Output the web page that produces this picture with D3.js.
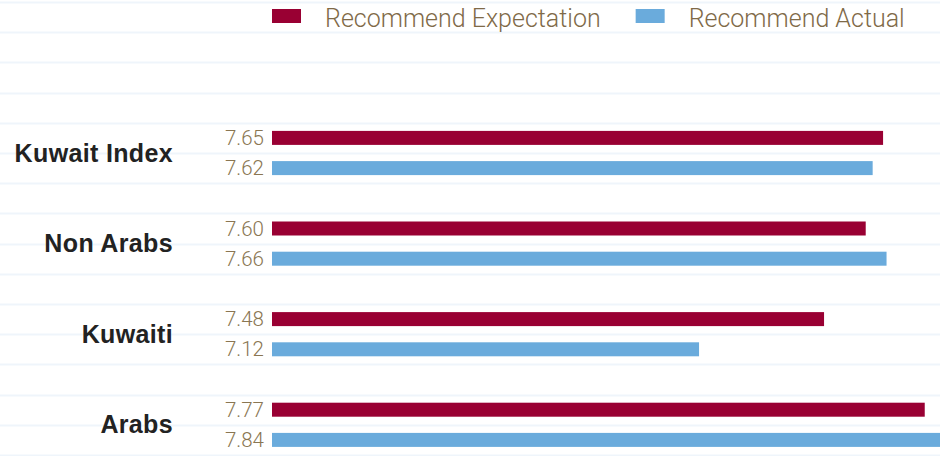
<!DOCTYPE html>
<html>
<head>
<meta charset="utf-8">
<script src="https://cdn.jsdelivr.net/npm/d3@7"></script>
<style>
  html, body { margin: 0; padding: 0; background: #fff; }
  svg { display: block; }
</style>
</head>
<body>
<svg id="chart" width="940" height="456"></svg>
<script>
// Recommendation scores per segment
const categories = ["Kuwait Index", "Non Arabs", "Kuwaiti", "Arabs"];
const expectation = [7.65, 7.60, 7.48, 7.77];
const actual = [7.62, 7.66, 7.12, 7.84];
const seriesNames = ["Recommend Expectation", "Recommend Actual"];
const seriesColors = ["#990033", "#6aabdc"];

const W = 940, H = 456;
const svg = d3.select("#chart");

// Row layout: legend + two spacer rows, then per category a spacer, expectation and actual row
const rowKeys = ["legend", "pad1", "pad2"];
categories.forEach((c, i) => {
  rowKeys.push("gap" + i, "exp" + i, "act" + i);
});
const y = d3.scaleBand().domain(rowKeys).range([2, 455]).paddingInner(0).paddingOuter(0);
const x = d3.scaleLinear().domain([5.89, 7.89]).range([272, 966.4]);
const barH = 14;

// horizontal rules between rows
const rules = rowKeys.map(k => y(k)).concat([y.range()[1]]);
svg.append("g").selectAll("line").data(rules).join("line")
  .attr("x1", 0).attr("x2", W)
  .attr("y1", d => Math.round(d) + 0.5).attr("y2", d => Math.round(d) + 0.5)
  .attr("stroke", "#eff5fb").attr("stroke-width", 2);

const rows = [];
categories.forEach((c, i) => {
  rows.push({ key: "exp" + i, value: expectation[i], s: 0 });
  rows.push({ key: "act" + i, value: actual[i], s: 1 });
});

const gBars = svg.append("g");
gBars.selectAll("rect").data(rows).join("rect")
  .attr("x", x.range()[0])
  .attr("y", d => y(d.key) + y.bandwidth() / 2 - barH / 2)
  .attr("width", d => x(d.value) - x.range()[0])
  .attr("height", barH)
  .attr("fill", d => seriesColors[d.s]);

// value labels left of the bars
svg.append("g").selectAll("text").data(rows).join("text")
  .attr("x", 264)
  .attr("y", d => y(d.key) + y.bandwidth() / 2 + 7)
  .attr("text-anchor", "end")
  .attr("font-family", "Roboto, 'Liberation Sans', sans-serif")
  .attr("font-weight", 300)
  .attr("font-size", 20.5)
  .attr("fill", "#8a7652")
  .text(d => d.value.toFixed(2));

// category labels centred between the pair of bars
svg.append("g").selectAll("text").data(categories).join("text")
  .attr("x", 173)
  .attr("y", (c, i) => y("act" + i) + 8.5)
  .attr("text-anchor", "end")
  .attr("font-family", "'Liberation Sans', Arial, sans-serif")
  .attr("font-weight", "bold")
  .attr("font-size", 25)
  .attr("letter-spacing", 0.35)
  .attr("fill", "#222")
  .text(d => d);

// legend
const legend = svg.append("g");
let lx = 272;
seriesNames.forEach((name, i) => {
  legend.append("rect")
    .attr("x", lx).attr("y", 9)
    .attr("width", 29).attr("height", 14)
    .attr("fill", seriesColors[i]);
  const t = legend.append("text")
    .attr("x", lx + 53).attr("y", 26.5)
    .attr("font-family", "Roboto, 'Liberation Sans', sans-serif")
    .attr("font-weight", 300)
    .attr("font-size", 25)
    .attr("fill", "#7f6a48")
    .text(name);
  lx = lx + 53 + t.node().getComputedTextLength() + 35;
});
</script>
</body>
</html>
